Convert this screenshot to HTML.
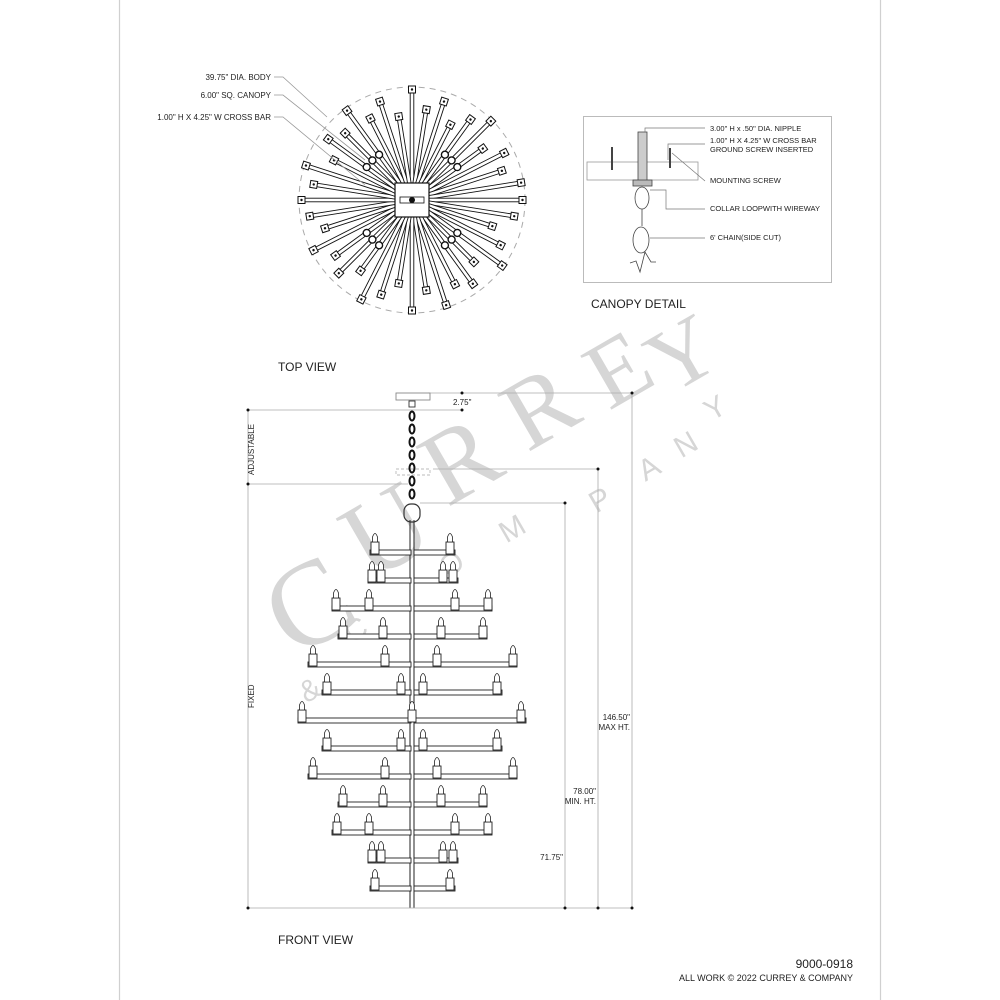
<!DOCTYPE html>
<html><head><meta charset="utf-8"><style>
html,body{margin:0;padding:0;background:#fff}
svg{display:block}
text{font-family:"Liberation Sans",sans-serif;fill:#222}
text.wm{fill:#d6d6d6;font-family:"Liberation Serif",serif}
text.wms{fill:#d6d6d6;font-family:"Liberation Sans",sans-serif}
</style></head><body>
<svg id="s" width="1000" height="1000" viewBox="0 0 1000 1000" xmlns="http://www.w3.org/2000/svg">
<rect x="119.5" y="-1" width="761" height="1002" fill="none" stroke="#d0d0d0" stroke-width="1.2"/>
<!-- watermark -->
<g>
<text class="wm" x="270" y="650" font-size="120" transform="rotate(-30 300 610)">C</text>
<text class="wm" x="345" y="570" font-size="110" transform="rotate(-30 380 530)">U</text>
<text class="wm" x="425" y="495" font-size="105" transform="rotate(-30 460 460)">R</text>
<text class="wm" x="505" y="440" font-size="100" transform="rotate(-30 540 405)">R</text>
<text class="wm" x="590" y="400" font-size="95" transform="rotate(-30 620 370)">E</text>
<text class="wm" x="650" y="385" font-size="90" transform="rotate(-30 680 355)">Y</text>
<text class="wms" x="300" y="700" font-size="30" transform="rotate(-30 310 690)">&amp;</text>
<text class="wms" x="345" y="640" font-size="30" transform="rotate(-30 355 630)">C</text>
<text class="wms" x="440" y="575" font-size="30" transform="rotate(-30 450 565)">O</text>
<text class="wms" x="500" y="540" font-size="30" transform="rotate(-30 510 530)">M</text>
<text class="wms" x="590" y="510" font-size="30" transform="rotate(-30 600 500)">P</text>
<text class="wms" x="640" y="478" font-size="30" transform="rotate(-30 650 470)">A</text>
<text class="wms" x="675" y="455" font-size="30" transform="rotate(-30 685 445)">N</text>
<text class="wms" x="705" y="418" font-size="30" transform="rotate(-30 715 408)">Y</text>
</g>
<g id="topv"></g>
<g id="front"></g>
<!-- top view labels -->
<g font-size="8">
<text x="271" y="80" text-anchor="end">39.75" DIA. BODY</text>
<text x="271" y="98" text-anchor="end">6.00" SQ. CANOPY</text>
<text x="271" y="120" text-anchor="end">1.00" H X 4.25" W CROSS BAR</text>
</g>
<g stroke="#999" stroke-width="0.8" fill="none">
<polyline points="274,77 283,77 327,117"/>
<polyline points="274,95 283,95 365,160"/>
<polyline points="274,117 283,117 365,185"/>
</g>
<text x="278" y="371" font-size="12">TOP VIEW</text>
<text x="278" y="944" font-size="12">FRONT VIEW</text>
<text x="853" y="968" font-size="12" text-anchor="end">9000-0918</text>
<text x="853" y="981" font-size="9" text-anchor="end">ALL WORK © 2022 CURREY &amp; COMPANY</text>
<!-- canopy detail -->
<rect x="583.5" y="116.5" width="248" height="166" fill="none" stroke="#bbb"/>
<text x="591" y="308" font-size="12">CANOPY DETAIL</text>
<g stroke="#444" stroke-width="0.8" fill="none">
<rect x="587" y="162" width="111" height="18" stroke="#999"/>
<rect x="638" y="132" width="9" height="50" fill="#ccc"/>
<line x1="612" y1="147" x2="612" y2="170" stroke-width="2"/>
<line x1="670" y1="148" x2="670" y2="168" stroke-width="2"/>
<rect x="633" y="180" width="19" height="6" fill="#bbb"/>
<ellipse cx="642" cy="198" rx="7" ry="11"/>
<line x1="642" y1="209" x2="642" y2="226"/>
<ellipse cx="641" cy="240" rx="8" ry="13"/>
<polyline points="630,263 636,261 640,272 645,252 651,262 656,262"/>
</g>
<g stroke="#777" stroke-width="0.7" fill="none">
<polyline points="645,132 645,128 705,128"/>
<polyline points="668,160 668,144 705,144"/>
<polyline points="672,153 705,181"/>
<polyline points="650,190 666,190 666,209 705,209"/>
<polyline points="650,238 705,238"/>
</g>
<g font-size="7.5">
<text x="710" y="131">3.00" H x .50" DIA. NIPPLE</text>
<text x="710" y="143">1.00" H X 4.25" W CROSS BAR</text>
<text x="710" y="152">GROUND SCREW INSERTED</text>
<text x="710" y="183">MOUNTING SCREW</text>
<text x="710" y="211">COLLAR LOOPWITH WIREWAY</text>
<text x="710" y="240">6' CHAIN(SIDE CUT)</text>
</g>
<!-- dimensions -->
<g stroke="#aaa" stroke-width="0.8" fill="none">
<line x1="248" y1="410" x2="248" y2="908"/>
<line x1="248" y1="410" x2="462" y2="410"/>
<line x1="248" y1="484" x2="408" y2="484"/>
<line x1="428" y1="393" x2="632" y2="393"/>
<line x1="632" y1="393" x2="632" y2="908"/>
<line x1="433" y1="469" x2="598" y2="469"/>
<line x1="598" y1="469" x2="598" y2="908"/>
<line x1="420" y1="503" x2="565" y2="503"/>
<line x1="565" y1="503" x2="565" y2="908"/>
<line x1="248" y1="908" x2="632" y2="908"/>
</g>
<g fill="#111">
<circle cx="248" cy="410" r="1.5"/><circle cx="248" cy="484" r="1.5"/><circle cx="462" cy="410" r="1.5"/>
<circle cx="462" cy="393" r="1.5"/><circle cx="632" cy="393" r="1.5"/><circle cx="598" cy="469" r="1.5"/>
<circle cx="565" cy="503" r="1.5"/><circle cx="248" cy="908" r="1.5"/><circle cx="565" cy="908" r="1.5"/>
<circle cx="598" cy="908" r="1.5"/><circle cx="632" cy="908" r="1.5"/>
</g>
<text x="453" y="405" font-size="8">2.75"</text>
<text x="254" y="475" font-size="8" transform="rotate(-90 254 475)">ADJUSTABLE</text>
<text x="254" y="708" font-size="8" transform="rotate(-90 254 708)">FIXED</text>
<text x="630" y="720" font-size="8" text-anchor="end">146.50"</text>
<text x="630" y="730" font-size="8" text-anchor="end">MAX HT.</text>
<text x="596" y="794" font-size="8" text-anchor="end">78.00"</text>
<text x="596" y="804" font-size="8" text-anchor="end">MIN. HT.</text>
<text x="563" y="860" font-size="8" text-anchor="end">71.75"</text>
<!-- canopy & chain -->
<g stroke="#333" stroke-width="0.9" fill="#fff">
<rect x="396" y="393" width="34" height="7" stroke="#888"/>
<rect x="396" y="469" width="34" height="6" stroke="#bbb" stroke-dasharray="3,2"/>
<rect x="409" y="401" width="6" height="6"/>
</g>
<g id="chain" stroke="#111" stroke-width="2" fill="none"></g>
<g stroke="#333" stroke-width="1.2" fill="none">
<rect x="404" y="504" width="16" height="18" rx="7"/>
</g>
</svg>
<script>
(function(){
var NS="http://www.w3.org/2000/svg";
function el(p,t,a){var e=document.createElementNS(NS,t);for(var k in a)e.setAttribute(k,a[k]);p.appendChild(e);return e;}
var tv=document.getElementById('topv');
var cx=412,cy=200;
el(tv,'circle',{cx:cx,cy:cy,r:113,fill:'none',stroke:'#aaa','stroke-dasharray':'6,5'});
var lens=[111,92,104,85,100,112,88,104,95];
var n=40;
for(var i=0;i<n;i++){
  var a=i*360/n;
  var L=lens[i%lens.length];
  if(i%10==0)L=111;
  var g=el(tv,'g',{transform:'rotate('+a+' '+cx+' '+cy+')'});
  el(g,'rect',{x:cx-1.8,y:cy-L,width:3.6,height:L,fill:'#fff',stroke:'#111','stroke-width':0.9});
  el(g,'rect',{x:cx-3.5,y:cy-L-3,width:7,height:7,fill:'#fff',stroke:'#111','stroke-width':1});
  el(g,'circle',{cx:cx,cy:cy-L+0.5,r:1.2,fill:'#111'});
}
[45,135,225,315].forEach(function(d){
  for(var k=-1;k<=1;k++){
    var a=(d+k*9)*Math.PI/180;
    el(tv,'circle',{cx:cx+Math.sin(a)*56,cy:cy-Math.cos(a)*56,r:3.5,fill:'#fff',stroke:'#111','stroke-width':1.4});
  }
});
el(tv,'rect',{x:cx-17,y:cy-17,width:34,height:34,fill:'#fff',stroke:'#111','stroke-width':1.2});
el(tv,'rect',{x:cx-12,y:cy-3,width:24,height:6,fill:'#fff',stroke:'#111','stroke-width':0.8});
el(tv,'circle',{cx:cx,cy:cy,r:3,fill:'#111'});
var ch=document.getElementById('chain');
[416,429,442,455,468,481,494].forEach(function(y){el(ch,'ellipse',{cx:412,cy:y,rx:2.5,ry:4.5});});
var f=document.getElementById('front');
var X=412;
el(f,'line',{x1:X-2,y1:520,x2:X-2,y2:908,stroke:'#222','stroke-width':1});
el(f,'line',{x1:X+2,y1:520,x2:X+2,y2:908,stroke:'#222','stroke-width':1});
var rows=[
 [370,455,[375],[450]],
 [368,458,[372,381],[443,453]],
 [332,492,[336,369],[455,488]],
 [338,487,[343,383],[441,483]],
 [308,517,[313,385],[437,513]],
 [322,502,[327,401],[423,497]],
 [298,526,[302,412],[521]],
 [322,502,[327,401],[423,497]],
 [308,517,[313,385],[437,513]],
 [338,487,[343,383],[441,483]],
 [332,492,[337,369],[455,488]],
 [368,458,[372,381],[443,453]],
 [370,455,[375],[450]]
];
function candle(x,yb){
  el(f,'rect',{x:x-4,y:yb-12,width:8,height:12,fill:'#fff',stroke:'#222','stroke-width':0.9});
  el(f,'path',{d:'M'+(x-2.5)+','+(yb-12)+' L'+(x-2.5)+','+(yb-17)+' Q'+x+','+(yb-24)+' '+(x+2.5)+','+(yb-17)+' L'+(x+2.5)+','+(yb-12)+' Z',fill:'#fff',stroke:'#222','stroke-width':0.8});
}
rows.forEach(function(r,i){
  var y=550+i*28;
  el(f,'rect',{x:r[0],y:y,width:X-1-r[0],height:5,fill:'#fff',stroke:'#222','stroke-width':0.9});
  el(f,'rect',{x:X+2,y:y,width:r[1]-X-2,height:5,fill:'#fff',stroke:'#222','stroke-width':0.9});
  r[2].concat(r[3]).forEach(function(x){candle(x,y+4);});
});
})();
</script>
</body></html>
